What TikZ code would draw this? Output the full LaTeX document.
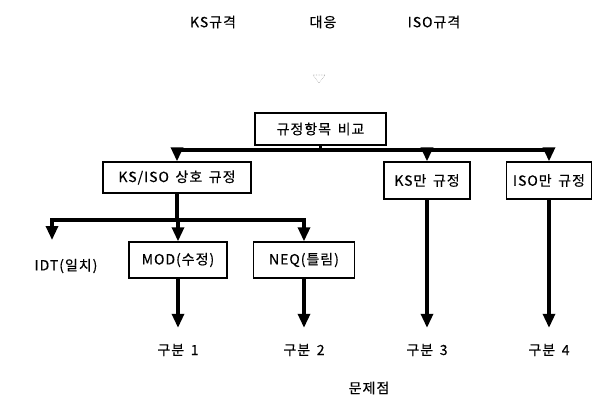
\documentclass[tikz,border=0pt]{standalone}
\usepackage{fontspec}
\setmainfont{Noto Sans CJK KR}[LetterSpace=7,WordSpace=1.6,FakeBold=0.4]
\usetikzlibrary{arrows.meta}
\begin{document}
\begin{tikzpicture}[x=1pt,y=-1pt,
  txt/.style={font=\fontsize{14}{16}\selectfont},
  box/.style={txt,draw,line width=1.4pt,inner sep=0},
  lbl/.style={txt,inner sep=0},
  res/.style={txt,inner sep=0,minimum height=44pt},
  flow/.style={line width=3.2pt,line join=miter},
  arr/.style={flow,-{Triangle[length=14pt,width=12pt]}}]
\useasboundingbox (0,0) rectangle (594,396);
% header texts
\node[lbl] (ks) at (213,22) {KS규격};
\node[lbl] (dy) at (323,22) {대응};
\node[lbl] (isoh) at (434,22) {ISO규격};
% faint open triangle
\draw[gray!60,line width=0.6pt,densely dotted] (313,75) -- (325,75) -- (319,83) -- cycle;
% boxes
\node[box,minimum width=131pt,minimum height=32pt] (top) at (320.5,129) {규정항목 비교};
\node[box,minimum width=148pt,minimum height=31pt] (ksiso) at (177,177.5) {KS/ISO 상호 규정};
\node[box,minimum width=86pt,minimum height=37pt] (ksonly) at (427,180.5) {KS만 규정};
\node[box,minimum width=85pt,minimum height=37pt] (isoonly) at (549,180.5) {ISO만 규정};
\node[box,minimum width=98pt,minimum height=36pt] (mod) at (178,260) {MOD(수정)};
\node[box,minimum width=101pt,minimum height=36pt] (neq) at (304,260) {NEQ(틀림)};
\node[lbl] (idt) at (66,266) {IDT(일치)};
\coordinate (idtin) at (52,240);
% results
\node[res] (g1) at (178,350) {구분 1};
\node[res] (g2) at (304,350) {구분 2};
\node[res] (g3) at (427,350) {구분 3};
\node[res] (g4) at (549,350) {구분 4};
\node[lbl] (prob) at (369,388) {문제점};
% bus 1
\coordinate (b1) at (320.5,150);
\draw[flow] (top.south) -- (b1);
\draw[arr] (b1) -| (ksiso.north);
\draw[arr] (b1) -| (ksonly.north);
\draw[arr] (b1) -| (isoonly.north);
% bus 2
\coordinate (b2) at (177,220);
\draw[flow] (ksiso.south) -- (b2);
\draw[arr] (b2) -| (idtin);
\draw[arr] (b2) -| (mod.north);
\draw[arr] (b2) -| (neq.north);
% down arrows
\draw[arr] (mod.south) -- (g1.north);
\draw[arr] (neq.south) -- (g2.north);
\draw[arr] (ksonly.south) -- (g3.north);
\draw[arr] (isoonly.south) -- (g4.north);
\end{tikzpicture}
\end{document}
